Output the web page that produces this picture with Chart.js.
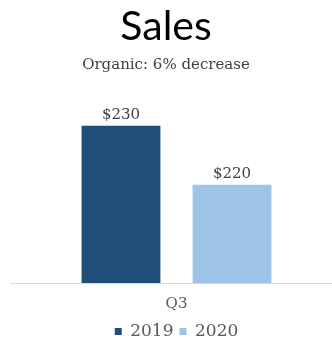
<!DOCTYPE html>
<html>
<head>
<meta charset="utf-8">
<script src="https://cdn.jsdelivr.net/npm/chart.js@4.4.1/dist/chart.umd.min.js"></script>
<style>
  html, body { margin: 0; padding: 0; background: #fff; }
  #wrap { width: 332px; height: 343px; }
</style>
</head>
<body>
<div id="wrap"><canvas id="sales-chart"></canvas></div>
<script>
// Chart data
const quarters = ["Q3"];
const years = ["2019", "2020"];
const sales2019 = [230];
const sales2020 = [220];
const barColors = ["#1f4e79", "#9dc3e6"];

const serif = "'DejaVu Serif', serif";

// Writes "$value" above each bar
const valueLabels = {
    id: "valueLabels",
    afterDatasetsDraw(chart) {
        const ctx = chart.ctx;
        ctx.save();
        ctx.font = "15px " + serif;
        ctx.fillStyle = "#404040";
        ctx.textAlign = "center";
        ctx.textBaseline = "bottom";
        chart.data.datasets.forEach((ds, i) => {
            chart.getDatasetMeta(i).data.forEach((bar, j) => {
                ctx.fillText("$" + ds.data[j], bar.x, bar.y - 3);
            });
        });
        ctx.restore();
    }
};

// Thin baseline under the bars, running almost the full width
const baseline = {
    id: "baseline",
    beforeDatasetsDraw(chart) {
        const ctx = chart.ctx;
        const y = chart.scales.y.getPixelForValue(chart.scales.y.min);
        ctx.save();
        ctx.strokeStyle = "#d9d9d9";
        ctx.lineWidth = 1;
        ctx.beginPath();
        ctx.moveTo(10, Math.round(y) + 0.5);
        ctx.lineTo(chart.width, Math.round(y) + 0.5);
        ctx.stroke();
        ctx.restore();
    }
};

new Chart(document.getElementById("sales-chart"), {
    type: "bar",
    data: {
        labels: quarters,
        datasets: [
            { label: years[0], data: sales2019, backgroundColor: barColors[0] },
            { label: years[1], data: sales2020, backgroundColor: barColors[1] }
        ]
    },
    options: {
        responsive: true,
        maintainAspectRatio: false,
        animation: false,
        categoryPercentage: 0.714,
        barPercentage: 0.71,
        layout: { padding: { left: 0, right: 0, top: 0, bottom: -7 } },
        plugins: {
            title: {
                display: true,
                text: "Sales",
                color: "#000",
                font: { family: "Lato", size: 41, weight: "normal" },
                padding: { top: 2, bottom: 0 }
            },
            subtitle: {
                display: true,
                text: "Organic: 6% decrease",
                color: "#404040",
                font: { family: serif, size: 15 },
                padding: { top: 5, bottom: 16 }
            },
            legend: {
                position: "bottom",
                fullSize: false, // centre under the plot, not the canvas
                labels: {
                    color: "#595959",
                    font: { family: serif, size: 17 },
                    boxWidth: 7,
                    boxHeight: 7,
                    padding: 6
                }
            },
            tooltip: { enabled: false }
        },
        scales: {
            x: {
                grid: { display: false },
                border: { display: false },
                ticks: { color: "#595959", font: { family: serif, size: 15 }, padding: 4 }
            },
            y: {
                min: 203.4,
                max: 236,
                grid: { display: false },
                border: { display: false },
                ticks: { display: false },
                // empty strip on the left that pushes the bars right
                afterFit(scale) { scale.width = 21; }
            }
        }
    },
    plugins: [valueLabels, baseline]
});
</script>
</body>
</html>
